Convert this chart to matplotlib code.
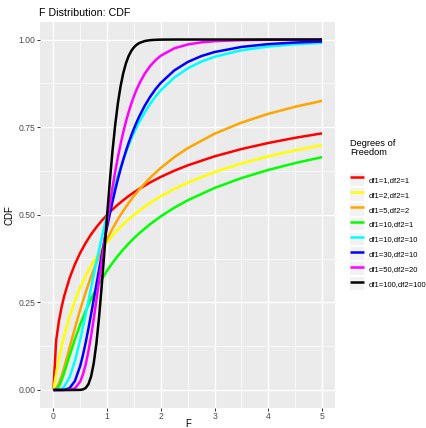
import numpy as np
import matplotlib
matplotlib.use("Agg")
import matplotlib.pyplot as plt
from matplotlib.patches import Patch
from matplotlib.legend_handler import HandlerTuple

plt.rcParams['font.family'] = ['Liberation Sans', 'DejaVu Sans']

F_VALS = [0, 0.05, 0.1, 0.15, 0.2, 0.3, 0.4, 0.5, 0.6, 0.7, 0.8, 0.9, 1.0,
          1.1, 1.2, 1.3, 1.4, 1.5, 1.6, 1.8, 2.0, 2.25, 2.5, 3.0, 3.5, 4.0, 4.5, 5.0]
# denser reading for the steep curves
F_FINE = [0, 0.05, 0.1, 0.15, 0.2, 0.3, 0.4, 0.5, 0.55, 0.6, 0.65, 0.7, 0.75, 0.8, 0.85,
          0.9, 0.95, 1.0, 1.05, 1.1, 1.15, 1.2, 1.25, 1.3, 1.35, 1.4, 1.45, 1.5, 1.55, 1.6,
          1.7, 1.8, 1.9, 2.0, 2.25, 2.5, 2.75, 3.0, 3.5, 4.0, 4.5, 5.0]

LABELS = ["df1=1,df2=1", "df1=2,df2=1", "df1=5,df2=2", "df1=10,df2=1",
          "df1=10,df2=10", "df1=30,df2=10", "df1=50,df2=20", "df1=100,df2=100"]
COLORS = ["red", "yellow", "orange", "#00FF00", "cyan", "blue", "magenta", "black"]

CDF_1_1 = [0, .1401, .1950, .2353, .2677, .3191, .3590, .3918, .4196, .4438, .4646, .4832, .5000,
           .5152, .5290, .5416, .5533, .5641, .5741, .5922, .6082, .6257, .6410, .6667, .6875, .7048, .7196, .7323]
CDF_2_1 = [0, .0465, .0871, .1229, .1548, .2094, .2546, .2929, .3258, .3545, .3798, .4024, .4226,
           .4410, .4577, .4730, .4870, .5000, .5120, .5337, .5528, .5736, .5918, .6220, .6464, .6667, .6838, .6985]
CDF_5_2 = [0, .0041, .0179, .0388, .0642, .1203, .1768, .2300, .2789, .3231, .3629, .3988, .4312,
           .4605, .4871, .5114, .5335, .5538, .5724, .6055, .6339, .6643, .6900, .7313, .7629, .7880, .8082, .8250]
CDF_10_1 = [0, .0012, .0101, .0273, .0493, .0979, .1449, .1877, .2257, .2596, .2897, .3166, .3409,
            .3628, .3828, .4010, .4178, .4332, .4475, .4732, .4956, .5201, .5413, .5765, .6047, .6279, .6475, .6643]
CDF_10_10 = [0, .0001, .0007, .0033, .0094, .0358, .0823, .1446, .1796, .2162, .2536, .2912, .3286, .3652,
             .4009, .4353, .4683, .5000, .5301, .5586, .5855, .6110, .6348, .6573, .6783, .6981, .7166, .7338,
             .7500, .7651, .7925, .8163, .8372, .8554, .8916, .9177, .9368, .9508, .9693, .9800, .9865, .9906]
CDF_30_10 = [0, 0, 0, 0, .0003, .0052, .0256, .0694, .1000, .1352, .1740, .2153, .2581, .3011,
             .3442, .3861, .4266, .4657, .5028, .5379, .5708, .6017, .6305, .6573, .6821, .7052, .7266, .7463,
             .7645, .7813, .8112, .8366, .8583, .8766, .9119, .9359, .9526, .9643, .9789, .9869, .9915, .9942]
CDF_50_20 = [0, 0, 0, 0, 0, .0003, .0046, .0245, .0447, .0730, .1095, .1532, .2028, .2562, .3122,
             .3687, .4244, .4787, .5302, .5785, .6232, .6644, .7016, .7355, .7659, .7931, .8174, .8388, .8579, .8747,
             .9027, .9243, .9411, .9540, .9749, .9859, .9919, .9953, .9982, .9993, .9997, .9999]
CDF_100_100 = [0, 0, 0, 0, 0, 0, 0, .0003, .0016, .0056, .0162, .0380, .0761, .1330, .2090,
               .2997, .3987, .5000, .5962, .6828, .7571, .8185, .8669, .9044, .9324, .9530, .9677, .9780, .9853, .9902,
               .9957, .9982, .9992, .9997, 1, 1, 1, 1, 1, 1, 1, 1]

SERIES = [CDF_1_1, CDF_2_1, CDF_5_2, CDF_10_1, CDF_10_10, CDF_30_10, CDF_50_20, CDF_100_100]
XS = [F_VALS] * 4 + [F_FINE] * 4

W, H = 427, 428
fig = plt.figure(figsize=(W / 100, H / 100), dpi=100)
ax = fig.add_axes([40 / W, 1 - 407.5 / H, 295.5 / W, 385.5 / H])
ax.set_facecolor('#EBEBEB')
for s in ax.spines.values():
    s.set_visible(False)

ax.set_xlim(-0.25, 5.25)
ax.set_ylim(-0.05, 1.05)
ax.set_xticks([0, 1, 2, 3, 4, 5])
ax.set_yticks([0, 0.25, 0.5, 0.75, 1.0])
ax.set_yticklabels(["0.00", "0.25", "0.50", "0.75", "1.00"])
ax.set_xticks(np.arange(0.5, 5, 1), minor=True)
ax.set_yticks([0.125, 0.375, 0.625, 0.875], minor=True)
ax.grid(which='major', color='white', linewidth=1.0)
ax.grid(which='minor', color='white', linewidth=0.5)
ax.set_axisbelow(True)
ax.tick_params(which='major', length=2.2, width=0.7, color='#333333', labelsize=6.2,
               labelcolor='#4D4D4D', pad=1)
ax.tick_params(which='minor', length=0)

handles = []
for xv, vals, col in zip(XS, SERIES, COLORS):
    ln, = ax.plot(xv, vals, color=col, linewidth=1.8, solid_capstyle='butt')
    handles.append((Patch(facecolor='#F2F2F2', edgecolor='none'), ln))

ax.set_xlabel('F', fontsize=7, labelpad=-1.5)
ax.set_ylabel('CDF', fontsize=7, labelpad=3)
ax.set_title('F Distribution: CDF', fontsize=7.7, loc='left', x=-0.003, pad=4.5)

fig.text(350 / W, 1 - 139 / H, 'Degrees of\nFreedom', fontsize=6.7, va='top', ha='left',
         linespacing=1.0)
leg = fig.legend(handles, LABELS, handler_map={tuple: HandlerTuple(ndivide=1)},
                 loc='upper left', bbox_to_anchor=(350 / W, 1 - 173 / H), frameon=False,
                 fontsize=5.5, handlelength=1.83, handleheight=2.2, handletextpad=0.6,
                 labelspacing=0.275, borderaxespad=0, borderpad=0)

plt.savefig('out.png', dpi=100)
